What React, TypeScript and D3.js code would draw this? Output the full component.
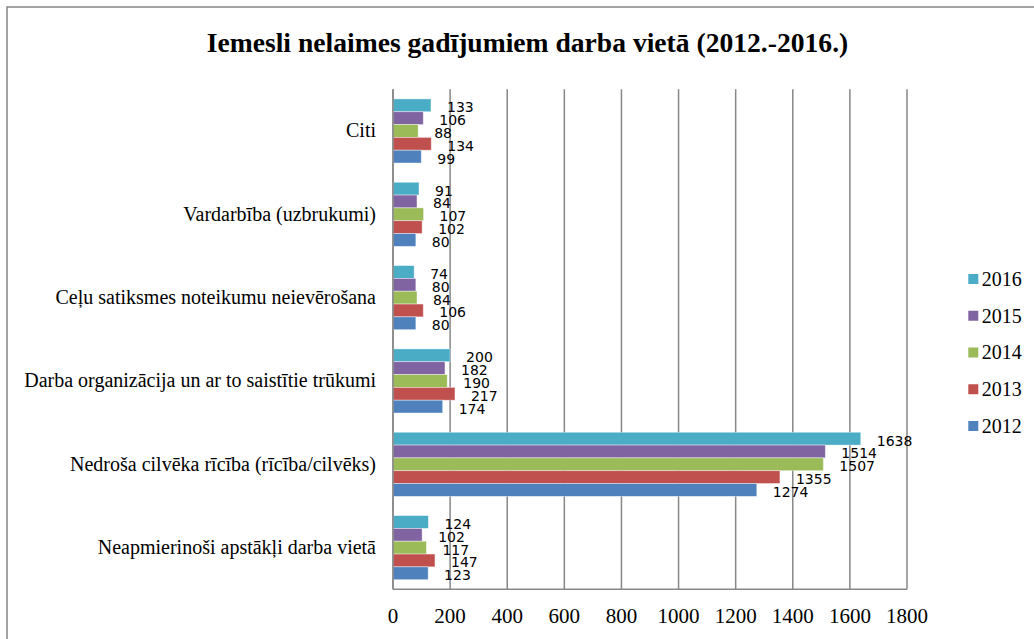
import React from "react";
import * as d3 from "d3";

const categories = [
  "Citi",
  "Vardarbība (uzbrukumi)",
  "Ceļu satiksmes noteikumu neievērošana",
  "Darba organizācija un ar to saistītie trūkumi",
  "Nedroša cilvēka rīcība (rīcība/cilvēks)",
  "Neapmierinoši apstākļi darba vietā",
];

// values in the same order as categories (top to bottom)
const years = ["2016", "2015", "2014", "2013", "2012"];
const v2016 = [133, 91, 74, 200, 1638, 124];
const v2015 = [106, 84, 80, 182, 1514, 102];
const v2014 = [88, 107, 84, 190, 1507, 117];
const v2013 = [134, 102, 106, 217, 1355, 147];
const v2012 = [99, 80, 80, 174, 1274, 123];
const seriesValues = [v2016, v2015, v2014, v2013, v2012];
const colors = ["#4BACC6", "#8064A2", "#9BBB59", "#C0504D", "#4F81BD"];
const xTicks = [0, 200, 400, 600, 800, 1000, 1200, 1400, 1600, 1800];
const title = "Iemesli nelaimes gadījumiem darba vietā (2012.-2016.)";

const W = 1034;
const H = 639;
const plot = { left: 393, right: 907, top: 89.3, bottom: 589.3 };
const grid = "#878787";
const serif = "'Liberation Serif', 'Times New Roman', serif";
const sans = "'DejaVu Sans', sans-serif";

export default function App() {
  const x = d3.scaleLinear().domain([0, 1800]).range([plot.left, plot.right]);
  const y = d3.scaleBand<string>().domain(categories).range([plot.top, plot.bottom]).padding(0);
  const bw = y.bandwidth();
  const barH = bw / 6.5;
  const inner = d3
    .scaleBand<string>()
    .domain(years)
    .range([0.75 * barH, 5.75 * barH])
    .padding(0);

  return (
    <svg
      width={W}
      height={H}
      style={{ position: "absolute", left: 0, top: 0, background: "#fff" }}
    >
      <rect x={0} y={0} width={W} height={H} fill="#fff" />
      {/* outer frame */}
      <rect x={7} y={7} width={W + 20} height={H + 20} fill="none" stroke={grid} strokeWidth={1.5} />
      <text
        x={527.5}
        y={52.3}
        textAnchor="middle"
        fontFamily={serif}
        fontWeight="bold"
        fontSize={27.6}
        fill="#000"
      >
        {title}
      </text>

      {/* gridlines */}
      {xTicks.map((t) => (
        <line
          key={"g" + t}
          x1={x(t)}
          x2={x(t)}
          y1={plot.top}
          y2={plot.bottom}
          stroke={grid}
          strokeWidth={1.5}
        />
      ))}
      {/* bottom axis */}
      <line x1={plot.left} x2={plot.right} y1={plot.bottom} y2={plot.bottom} stroke={grid} strokeWidth={1.5} />

      {/* bars */}
      {categories.map((c, ci) =>
        years.map((yr, si) => {
          const v = seriesValues[si][ci];
          const by = (y(c) as number) + (inner(yr) as number);
          return (
            <g key={c + yr}>
              <rect
                x={x(0)}
                y={by}
                width={x(v) - x(0)}
                height={inner.bandwidth()}
                fill={colors[si]}
                stroke="#ffffff"
                strokeOpacity={0.5}
                strokeWidth={0.8}
              />
              <text
                x={x(v) + 16}
                y={by + inner.bandwidth() / 2 + 7}
                fontFamily={sans}
                fontSize={14}
                fill="#000"
              >
                {v}
              </text>
            </g>
          );
        })
      )}

      {/* left axis */}
      <line x1={plot.left} x2={plot.left} y1={plot.top} y2={plot.bottom} stroke={grid} strokeWidth={1.5} />

      {/* category labels */}
      {categories.map((c) => (
        <text
          key={"c" + c}
          x={376}
          y={(y(c) as number) + bw / 2 + 6.5}
          textAnchor="end"
          fontFamily={serif}
          fontSize={20}
          fill="#000"
        >
          {c}
        </text>
      ))}

      {/* x tick labels */}
      {xTicks.map((t) => (
        <text
          key={"t" + t}
          x={x(t)}
          y={623.3}
          textAnchor="middle"
          fontFamily={serif}
          fontSize={21}
          fill="#000"
        >
          {t}
        </text>
      ))}

      {/* legend */}
      {years.map((yr, i) => {
        const cy = 279 + i * 36.75;
        return (
          <g key={"l" + yr}>
            <rect x={968.3} y={cy - 5} width={10} height={10} fill={colors[i]} />
            <text x={981.7} y={cy + 6.8} fontFamily={serif} fontSize={20} fill="#000">
              {yr}
            </text>
          </g>
        );
      })}
    </svg>
  );
}
